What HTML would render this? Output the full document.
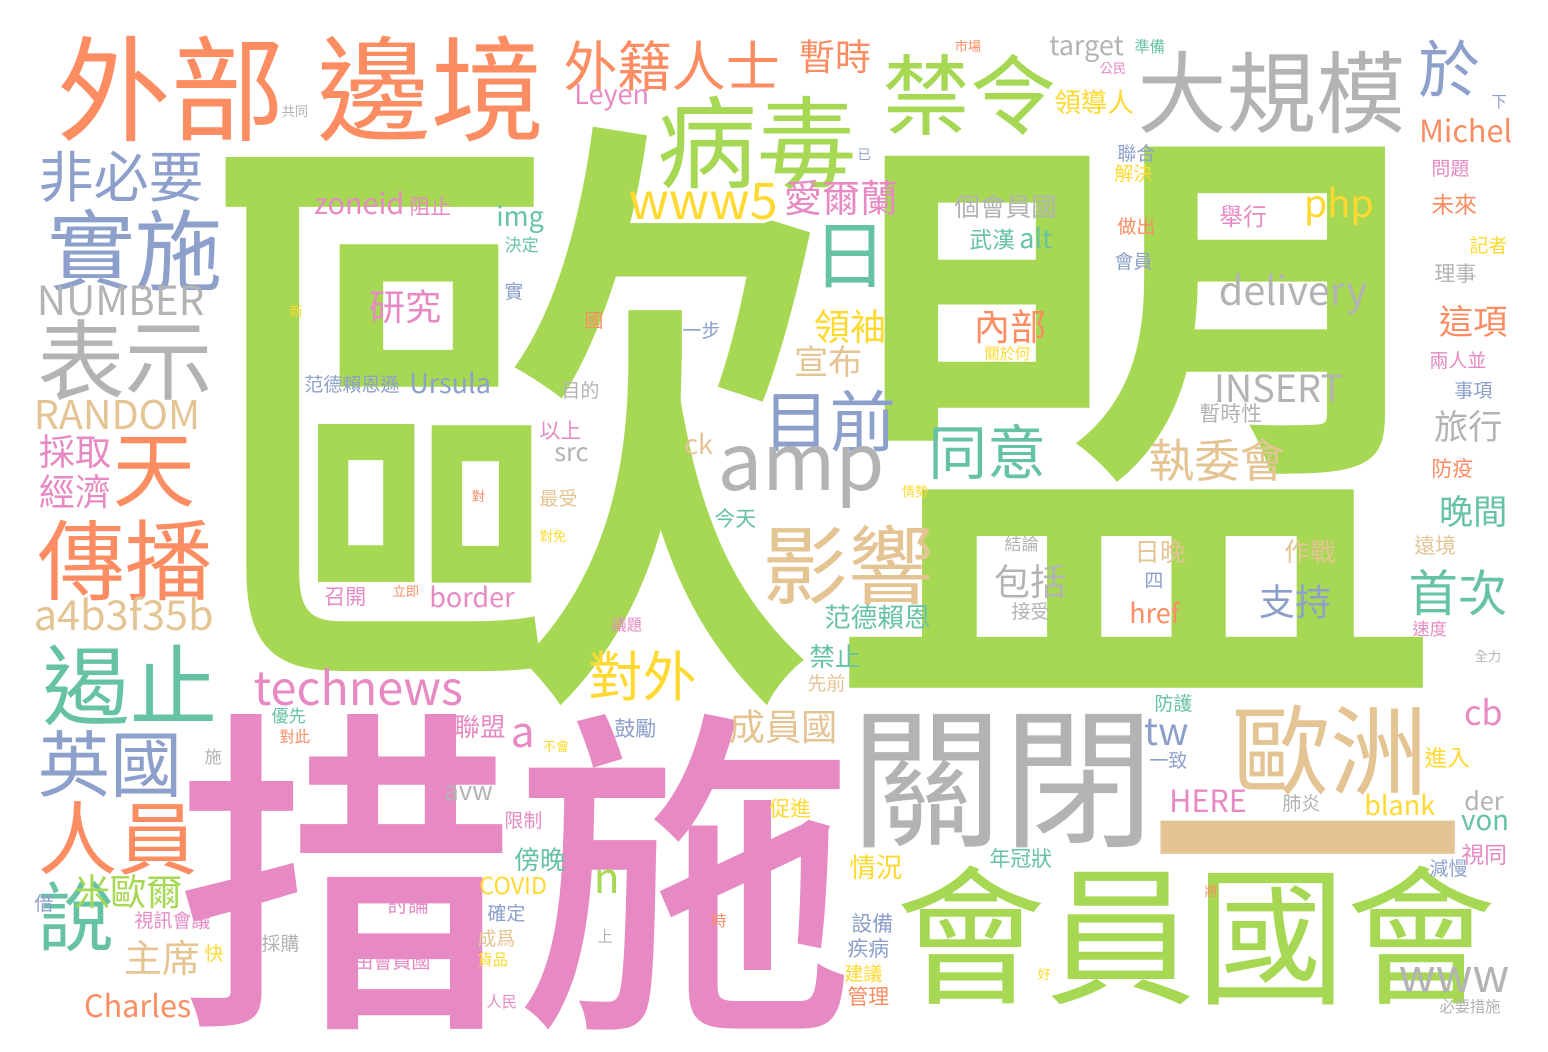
<!DOCTYPE html>
<html><head><meta charset="utf-8">
<style>
html,body{margin:0;padding:0;background:#fff;}
#cloud{position:relative;width:1548px;height:1052px;overflow:hidden;background:#fff;}
#cloud span{position:absolute;white-space:nowrap;line-height:1;font-family:"Noto Sans CJK TC","Liberation Sans",sans-serif;}
</style></head>
<body>
<div id="cloud"></div>
<script>
const G="#a6d854",P="#e78ac3",O="#fc8d62",B="#8da0cb",Y="#ffd92f",T="#e5c494",A="#b3b3b3",E="#66c2a5";
// [text, glyph-left, glyph-top, size, color, type]  c=CJK, u=cap/ascender top, x=x-height top, r=raw box
const words=[
["歐盟",222,122,655,G,"c"],
["措施",185,710,358,P,"c"],
["關閉",855,705,160,A,"c"],
["會員國會",900,865,158,G,"c"],
["歐洲",1235,705,103,T,"c"],
["一",1147,664,320,T,"r"],
["外部",60,35,120,O,"c"],
["邊境",320,35,120,O,"c"],
["外籍人士",565,40,57,O,"c"],
["病毒",660,95,105,G,"c"],
["禁令",885,55,92,G,"c"],
["大規模",1140,50,94,A,"c"],
["於",1420,40,65,B,"c"],
["暫時",800,40,38,O,"c"],
["非必要",40,150,58,B,"c"],
["實施",50,210,92,B,"c"],
["NUMBER",38,286,45,A,"u"],
["表示",40,320,92,A,"c"],
["RANDOM",35,401,44,T,"u"],
["天",115,430,87,O,"c"],
["採取",40,435,38,P,"c"],
["經濟",40,475,38,P,"c"],
["傳播",40,520,92,O,"c"],
["a4b3f35b",35,600,46,T,"u"],
["遏止",45,645,92,E,"c"],
["英國",40,730,76,B,"c"],
["人員",40,800,84,O,"c"],
["說",40,880,80,E,"c"],
["米歐爾",75,875,38,G,"c"],
["主席",125,940,40,T,"c"],
["Charles",85,995,34,O,"u"],
["日",815,220,78,E,"c"],
["www5",630,183,56,Y,"u"],
["愛爾蘭",785,180,40,P,"c"],
["目前",765,390,70,B,"c"],
["amp",720,448,86,A,"x"],
["影響",765,525,90,T,"c"],
["同意",930,425,62,E,"c"],
["執委會",1150,440,48,T,"c"],
["INSERT",1215,375,42,A,"u"],
["delivery",1220,277,44,A,"u"],
["php",1305,190,42,Y,"u"],
["舉行",1220,205,25,P,"c"],
["個會員國",955,195,27,A,"c"],
["武漢",970,230,24,E,"c"],
["alt",1020,228,30,E,"u"],
["內部",975,310,38,O,"c"],
["研究",370,290,38,P,"c"],
["領袖",815,310,38,Y,"c"],
["宣布",795,345,36,T,"c"],
["technews",255,672,52,P,"u"],
["對外",590,650,57,Y,"c"],
["成員國",730,710,38,T,"c"],
["tw",1145,718,42,B,"u"],
["HERE",1170,790,34,P,"u"],
["blank",1365,795,30,Y,"u"],
["der",1465,793,28,A,"u"],
["von",1462,816,30,E,"x"],
["cb",1465,700,38,P,"u"],
["首次",1410,570,52,E,"c"],
["晚間",1440,495,36,E,"c"],
["旅行",1435,410,36,A,"c"],
["這項",1440,305,36,O,"c"],
["Michel",1420,120,34,O,"u"],
["www",1400,968,50,A,"x"],
["包括",995,565,38,A,"c"],
["支持",1260,585,38,B,"c"],
["作戰",1285,540,27,T,"c"],
["日晚",1135,540,27,T,"c"],
["href",1130,603,30,O,"u"],
["范德賴恩",825,605,28,E,"c"],
["禁止",810,645,27,E,"c"],
["zoneid",315,195,32,P,"u"],
["阻止",410,198,22,P,"c"],
["img",497,206,30,E,"u"],
["Ursula",410,373,30,B,"u"],
["范德賴恩遜",305,376,20,B,"c"],
["border",430,587,30,P,"u"],
["召開",325,588,22,P,"c"],
["a",512,726,46,P,"x"],
["聯盟",455,715,27,P,"c"],
["avw",445,787,28,A,"x"],
["n",595,872,46,G,"x"],
["COVID",480,878,26,Y,"u"],
["傍晚",515,848,27,E,"c"],
["target",1050,35,30,A,"u"],
["Leyen",575,84,30,P,"u"],
["領導人",1055,90,28,Y,"c"],
["情況",850,855,28,Y,"c"],
["年冠狀",990,850,22,E,"c"],
["鼓勵",615,720,22,B,"c"],
["ck",685,434,30,T,"u"],
["src",555,444,28,A,"u"],
["最受",540,490,20,T,"c"],
["今天",715,510,22,E,"c"],
["以上",540,422,22,P,"c"],
["目的",562,382,20,A,"c"],
["決定",505,236,18,E,"c"],
["實",505,283,20,B,"c"],
["一步",683,322,20,B,"c"],
["國",585,312,20,O,"c"],
["先前",808,675,20,T,"c"],
["防護",1155,695,20,E,"c"],
["一致",1150,752,20,B,"c"],
["肺炎",1283,795,20,A,"c"],
["進入",1425,748,24,Y,"c"],
["視同",1462,845,24,P,"c"],
["減慢",1430,860,20,B,"c"],
["設備",852,915,22,B,"c"],
["疾病",848,940,22,B,"c"],
["建議",845,965,20,Y,"c"],
["管理",848,988,22,O,"c"],
["促進",770,800,22,Y,"c"],
["限制",505,812,20,P,"c"],
["確定",488,905,20,B,"c"],
["成爲",478,930,20,T,"c"],
["貨品",478,953,16,Y,"c"],
["由會員國",355,953,20,P,"c"],
["討論",388,896,22,P,"c"],
["採購",262,935,20,A,"c"],
["視訊會議",135,912,20,P,"c"],
["快",205,945,20,Y,"c"],
["借",35,895,20,B,"c"],
["不會",543,740,14,Y,"c"],
["對此",280,730,16,O,"c"],
["優先",272,707,18,E,"c"],
["施",205,748,18,A,"c"],
["聯合",1118,145,20,B,"c"],
["解決",1115,165,20,Y,"c"],
["做出",1118,218,20,O,"c"],
["會員",1115,253,20,B,"c"],
["問題",1432,160,20,P,"c"],
["未來",1432,195,24,O,"c"],
["記者",1470,237,20,Y,"c"],
["理事",1435,265,22,A,"c"],
["兩人並",1430,352,20,P,"c"],
["事項",1455,382,20,B,"c"],
["防疫",1432,460,22,O,"c"],
["遠境",1415,537,22,T,"c"],
["速度",1413,620,18,P,"c"],
["接受",1012,603,20,A,"c"],
["結論",1005,535,18,A,"c"],
["四",1145,572,20,B,"c"],
["暫時性",1200,405,22,A,"c"],
["關於何",985,347,16,Y,"c"],
["上",598,930,16,A,"c"],
["時",712,914,16,O,"c"],
["好",1038,968,14,Y,"c"],
["人民",487,995,16,P,"c"],
["必要措施",1440,1000,16,A,"c"],
["準備",1135,40,16,E,"c"],
["公民",1100,62,14,P,"c"],
["市場",955,40,14,O,"c"],
["下",1492,95,16,B,"c"],
["已",858,148,14,B,"c"],
["共同",282,105,14,A,"c"],
["新",290,305,14,Y,"c"],
["情勢",902,485,14,Y,"c"],
["對",472,490,14,O,"c"],
["立即",393,585,14,O,"c"],
["議題",612,618,16,P,"c"],
["對免",540,530,14,Y,"c"],
["全力",1475,650,14,A,"c"],
["將",1205,885,14,O,"c"]
];
const cloud=document.getElementById('cloud');
words.forEach(function(w){
  const t=w[5];
  let s=w[3];
  let off=0.08;
  if(t==="c") s=s*0.95;
  if(t==="u"){ s=s*0.9; off=0.2; }
  if(t==="x"){ s=s*0.92; off=0.4; }
  if(t==="r") off=0;
  const lx=t==="r"?0:0.03;
  const el=document.createElement('span');
  
  
  el.textContent=w[0];
  el.style.left=(w[1]-lx*s)+'px';
  el.style.top=(w[2]-off*s)+'px';
  el.style.fontSize=s+'px';
  el.style.color=w[4];
  if(w[3]>300) el.style.fontWeight='500';
  cloud.appendChild(el);
});
</script>
</body></html>
